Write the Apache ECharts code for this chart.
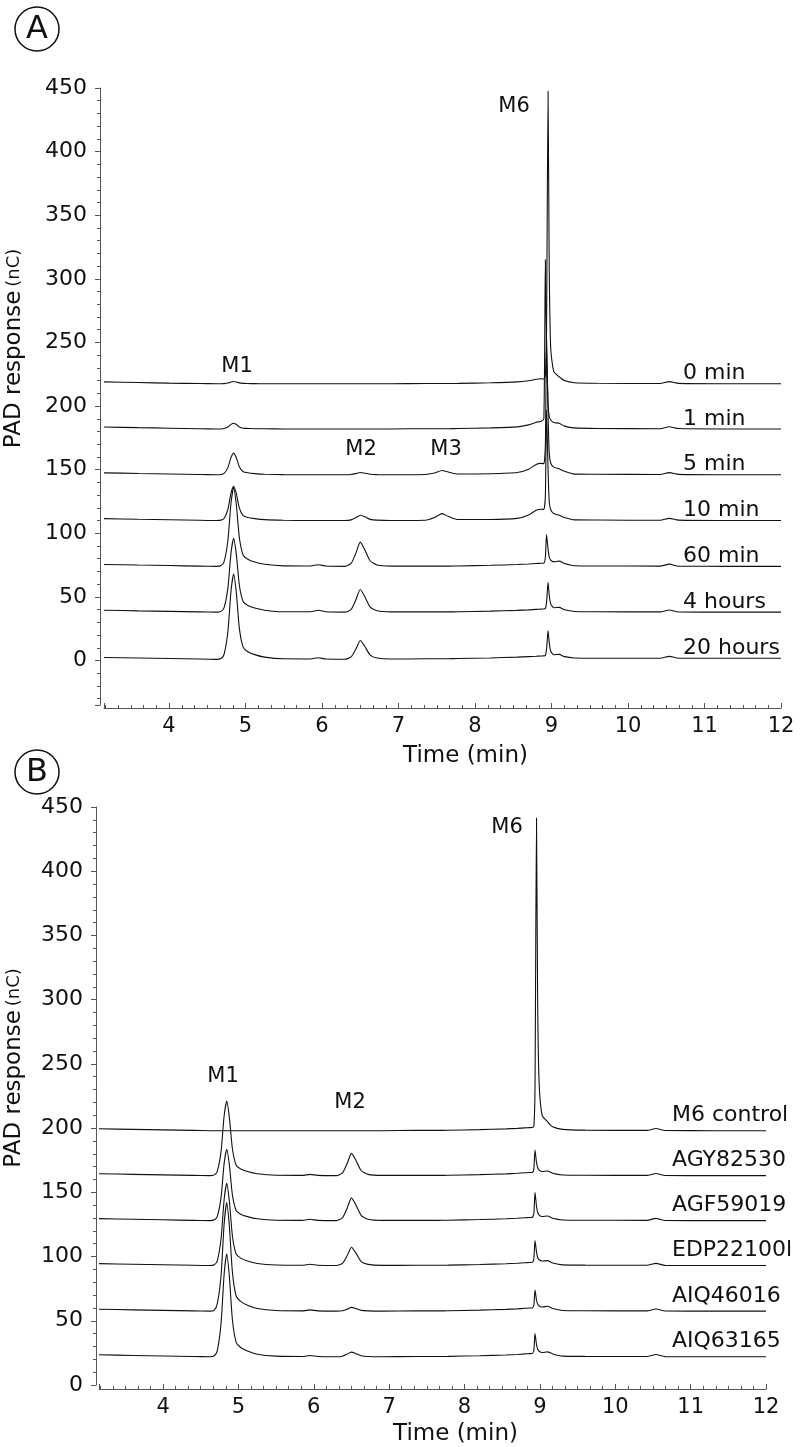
<!DOCTYPE html>
<html>
<head>
<meta charset="utf-8">
<script src="https://cdn.jsdelivr.net/npm/echarts@6/dist/echarts.min.js"></script>
<style>
html, body { margin: 0; padding: 0; background: #fff; }
#main { width: 800px; height: 1447px; }
</style>
</head>
<body>
<div id="main"></div>
<script>
// retention time grid (min), shared by every trace
var times = [3.15, 3.6, 4.0, 4.4, 4.62, 4.68, 4.72, 4.77, 4.81, 4.845,
  4.88, 4.92, 4.97, 5.03, 5.12, 5.25, 5.5, 5.85, 5.95, 6.05,
  6.3, 6.38, 6.44, 6.5, 6.56, 6.63, 6.72, 6.9, 7.35, 7.47,
  7.57, 7.65, 7.78, 8.2, 8.55, 8.7, 8.8, 8.86, 8.9, 8.92,
  8.935, 8.955, 8.97, 8.99, 9.03, 9.1, 9.17, 9.3, 9.6, 10.42,
  10.54, 10.66, 11.3, 12];

// panel A - PAD response (nC), traces already stacked
var min0 = [219, 218.5, 218, 217.7, 217.5, 217.5, 217.6, 218.1, 218.9, 219.3,
  218.9, 218.2, 217.8, 217.7, 217.6, 217.5, 217.5, 217.5, 217.5, 217.5,
  217.5, 217.5, 217.5, 217.5, 217.5, 217.5, 217.5, 217.5, 217.7, 217.7,
  217.7, 217.7, 217.8, 218.3, 219, 219.9, 221, 221.4, 221.2, 224,
  260, 447.5, 310, 245, 227, 223, 220, 218.3, 217.9, 217.7,
  219.2, 217.8, 217.5, 217.5];
var min1 = [183.5, 183, 182.6, 182.2, 182, 182, 182.3, 183.5, 185.6, 186.5,
  185.5, 183.6, 182.6, 182.4, 182.2, 182.1, 182, 182, 182, 182,
  182, 182, 182, 182, 182, 182, 182, 182, 182.2, 182.2,
  182.2, 182.2, 182.3, 182.8, 183.6, 185.2, 187.3, 187.9, 190, 315,
  245, 202, 192, 189, 187, 186.5, 184.2, 182.8, 182.4, 182.2,
  183.7, 182.3, 182, 182];
var min5 = [147.5, 147, 146.6, 146.2, 146, 146.2, 147, 151.6, 159.6, 163,
  159.3, 152.1, 148.4, 147.5, 146.9, 146.4, 146.1, 146, 146, 146,
  146, 146.2, 146.9, 147.8, 147.2, 146.4, 146.1, 146, 146.2, 147.4,
  149.3, 148.1, 146.6, 146.8, 147.7, 150.4, 154.1, 154.9, 154.7, 170,
  253, 194, 163, 155, 152, 150.7, 148.7, 146.5, 146.4, 146.2,
  147.7, 146.3, 146, 146];
var min10 = [111.5, 111, 110.6, 110.2, 110, 110.3, 111.6, 118.9, 131.6, 137,
  131.1, 119.7, 113.8, 112.4, 111.5, 110.7, 110.2, 110, 110, 110,
  110, 110.5, 112.2, 114.2, 112.9, 110.9, 110.3, 110, 110.2, 112.3,
  115.4, 113.3, 110.8, 110.8, 111.7, 114.4, 118.1, 118.9, 118.7, 130,
  197, 150, 125, 118.5, 115.5, 114.2, 112.4, 110.5, 110.4, 110.2,
  111.7, 110.3, 110, 110];
var min60 = [75.5, 75, 74.6, 74.2, 74, 74.6, 77.7, 94.5, 123.6, 136,
  122.4, 96.3, 82.7, 79.6, 77.4, 75.6, 74.4, 74.3, 75.3, 74.3,
  74, 76.3, 83.9, 93, 86.9, 78.2, 75.1, 74.2, 74.2, 74.2,
  74.2, 74.2, 74.3, 74.8, 75.4, 75.8, 76.2, 76.4, 76.5, 81.5,
  99, 87.5, 81.5, 78.8, 77.5, 78.1, 76.2, 74.5, 74.3, 74.2,
  75.7, 74.1, 74, 74];
var hours4 = [39.5, 39, 38.6, 38.2, 38, 38.6, 41.5, 57.1, 84.4, 96,
  83.2, 58.9, 46.1, 43.2, 41.2, 39.5, 38.3, 38.3, 39.5, 38.3,
  38, 40.1, 47.3, 55.8, 50.1, 41.9, 39.1, 38.2, 38.2, 38.2,
  38.2, 38.2, 38.3, 38.8, 39.4, 39.8, 40.2, 40.4, 40.5, 40.8,
  45.5, 61.5, 51.5, 44.3, 41.5, 41.7, 39.8, 38.5, 38.3, 38.2,
  39.7, 38.1, 38, 38];
var hours20 = [2.3, 1.9, 1.5, 1.1, 0.9, 1.6, 4.9, 23, 54.5, 68,
  53.2, 25, 10.3, 6.9, 4.6, 2.6, 1.3, 1.2, 2.2, 1.2,
  1, 2.8, 8.6, 15.7, 11, 4.2, 1.9, 1.1, 1.3, 1.3,
  1.3, 1.4, 1.5, 2, 2.6, 3, 3.3, 3.5, 3.6, 3.9,
  8.5, 23.5, 14, 7.3, 4.5, 4.8, 3, 2, 1.8, 1.8,
  3.2, 1.8, 1.7, 1.7];

// panel B
var control = [199.5, 199, 198.6, 198.2, 198, 198, 198, 198, 198, 198,
  198, 198, 198, 198, 198, 198, 198, 198, 198, 198,
  198, 198, 198, 198, 198, 198, 198, 198, 198.2, 198.2,
  198.2, 198.2, 198.3, 198.8, 199.4, 199.8, 200.2, 200.4, 200.5, 201.5,
  230, 441.5, 300, 235, 210, 205, 201, 199, 198.4, 198.2,
  199.7, 198.1, 198, 198];
var agy82530 = [164.5, 164, 163.6, 163.2, 163, 163.6, 166.5, 182.1, 209.4, 221,
  208.2, 183.9, 171.1, 168.2, 166.2, 164.5, 163.3, 163.2, 164, 163.2,
  163, 165.1, 172, 180.3, 174.8, 166.8, 164, 163.2, 163.2, 163.2,
  163.2, 163.2, 163.3, 163.8, 164.4, 164.8, 165.2, 165.4, 165.5, 168.5,
  183, 173.3, 169.3, 167.3, 166.2, 166.6, 164.8, 163.5, 163.3, 163.2,
  164.7, 163.1, 163, 163];
var agf59019 = [129.5, 129, 128.6, 128.2, 128, 128.6, 131.3, 146.3, 172.4, 183.5,
  171.3, 148, 135.8, 133, 131.1, 129.4, 128.3, 128.2, 129, 128.2,
  128, 130.1, 137.2, 145.7, 140, 131.9, 129.1, 128.2, 128.2, 128.2,
  128.2, 128.2, 128.3, 128.8, 129.4, 129.8, 130.2, 130.4, 130.5, 133.5,
  150, 139, 134.5, 132.3, 131.2, 131.6, 129.8, 128.5, 128.3, 128.2,
  129.7, 128.1, 128, 128];
var edp22100l = [94.5, 94, 93.6, 93.2, 93, 93.6, 96.8, 114.1, 144.2, 157,
  142.9, 116, 102, 98.8, 96.5, 94.6, 93.4, 93.2, 94, 93.2,
  93, 94.7, 100.4, 107.3, 102.7, 96.1, 93.9, 93.1, 93.2, 93.2,
  93.2, 93.2, 93.3, 93.8, 94.4, 94.8, 95.2, 95.4, 95.5, 98.5,
  112.5, 103.5, 99.5, 97.5, 96.5, 96.8, 95, 93.5, 93.3, 93.2,
  94.7, 93.1, 93, 93];
var aiq46016 = [59, 58.5, 58.1, 57.7, 57.5, 58.3, 63.5, 85.5, 125.1, 142,
  123.4, 87.9, 69.3, 65.1, 62.1, 59.6, 58, 57.7, 58.5, 57.7,
  57.5, 57.8, 59, 60.4, 59.5, 58.1, 57.7, 57.5, 57.7, 57.7,
  57.7, 57.7, 57.8, 58.3, 58.9, 59.3, 59.7, 59.9, 60, 62.5,
  74, 66, 63, 61.5, 60.7, 61.3, 59.5, 58, 57.8, 57.7,
  59.2, 57.6, 57.5, 57.5];
var aiq63165 = [23.5, 23, 22.6, 22.2, 22, 22.8, 26.8, 48.4, 86, 102,
  84.4, 50.8, 33.2, 29.2, 26.4, 24, 22.5, 22.2, 23, 22.2,
  22, 22.4, 23.9, 25.6, 24.4, 22.8, 22.2, 22, 22.2, 22.2,
  22.2, 22.2, 22.3, 22.8, 23.4, 23.8, 24.2, 24.4, 24.5, 27,
  40, 31.5, 28, 26.3, 25.3, 25.8, 24.2, 22.5, 22.3, 22.2,
  23.7, 22.1, 22, 22];

var namesA = ['0 min', '1 min', '5 min', '10 min', '60 min', '4 hours', '20 hours'];
var tracesA = [min0, min1, min5, min10, min60, hours4, hours20];
var namesB = ['M6 control', 'AGY82530', 'AGF59019', 'EDP22100l', 'AIQ46016', 'AIQ63165'];
var tracesB = [control, agy82530, agf59019, edp22100l, aiq46016, aiq63165];

var xMin = 3.15, xMax = 12;
var yMinA = -35, yMinB = 0, yMax = 450;

var font = 'DejaVu Sans, Verdana, sans-serif';
var axisColor = '#555';

function makeX(grid, offset, gap) {
    return {
        type: 'value', gridIndex: grid, min: xMin, max: xMax,
        minInterval: 1, maxInterval: 1, offset: offset,
        name: 'Time (min)', nameLocation: 'middle', nameGap: gap,
        nameTextStyle: { fontSize: 23, color: '#111', fontFamily: font, padding: [0, 0, 0, 46] },
        axisLine: { onZero: false, lineStyle: { color: axisColor, width: 1 } },
        axisTick: { inside: true, length: 5, lineStyle: { color: axisColor } },
        minorTick: { show: true, splitNumber: 6, length: 3, lineStyle: { color: axisColor } },
        axisLabel: { fontSize: 21, color: '#111', fontFamily: font, margin: 8, showMinLabel: false },
        splitLine: { show: false }
    };
}

function makeY(grid, min, offset, gap, shift) {
    return {
        type: 'value', gridIndex: grid, min: min, max: yMax,
        minInterval: 50, maxInterval: 50, offset: offset,
        name: '{a|PAD response} {b|(nC)}', nameLocation: 'middle', nameGap: gap,
        nameTextStyle: {
            color: '#111', fontFamily: font, padding: [0, 0, 0, shift],
            rich: { a: { fontSize: 23, fontFamily: font, color: '#111' }, b: { fontSize: 18, fontFamily: font, color: '#111' } }
        },
        axisLine: { show: true, onZero: false, lineStyle: { color: axisColor, width: 1 } },
        axisTick: { show: true, length: 5, lineStyle: { color: axisColor } },
        minorTick: { show: true, splitNumber: 5, length: 3, lineStyle: { color: axisColor } },
        axisLabel: { fontSize: 22, color: '#111', fontFamily: font, margin: 13, showMinLabel: min === 0 },
        splitLine: { show: false }
    };
}

function makeSeries(names, traces, axis, labelOffset) {
    return traces.map(function (vals, k) {
        return {
            name: names[k], type: 'line', xAxisIndex: axis, yAxisIndex: axis,
            data: times.map(function (t, i) { return [t, vals[i]]; }),
            showSymbol: false, smooth: 0.2, silent: true,
            lineStyle: { color: '#111', width: 1.1 },
            endLabel: {
                show: true, formatter: '{a}', distance: 0, offset: labelOffset,
                align: 'left', verticalAlign: 'middle',
                fontSize: 22, color: '#111', fontFamily: font
            }
        };
    });
}

function tag(text, x, y) {
    return {
        type: 'text', x: x, y: y,
        style: { text: text, fontSize: 21, fontFamily: font, fill: '#111', align: 'center', verticalAlign: 'middle' }
    };
}

function panelMark(letter, x, y) {
    return [
        { type: 'circle', shape: { cx: x, cy: y, r: 22 }, style: { fill: 'none', stroke: '#111', lineWidth: 1.5 } },
        { type: 'text', x: x, y: y + 1, style: { text: letter, fontSize: 32, fontFamily: font, fill: '#111', align: 'center', verticalAlign: 'middle' } }
    ];
}

var myChart = echarts.init(document.getElementById('main'));

var option = {
    animation: false,
    backgroundColor: '#fff',
    grid: [
        { left: 104, right: 19, top: 88, bottom: 742, outerBoundsMode: 'none', containLabel: false },
        { left: 99, right: 34, top: 807, bottom: 62, outerBoundsMode: 'none', containLabel: false }
    ],
    xAxis: [makeX(0, 3, 37), makeX(1, 4, 34)],
    yAxis: [makeY(0, yMinA, 4, 74, 96), makeY(1, yMinB, 3, 70, 56)],
    series: makeSeries(namesA, tracesA, 0, [-98, -10]).concat(makeSeries(namesB, tracesB, 1, [-94, -15])),
    graphic: panelMark('A', 37, 29).concat(panelMark('B', 37, 772)).concat([
        tag('M1', 237, 367), tag('M2', 361, 450), tag('M3', 446, 450), tag('M6', 514, 107),
        tag('M1', 223, 1077), tag('M2', 350, 1103), tag('M6', 507, 828)
    ])
};

myChart.setOption(option);
</script>
</body>
</html>
